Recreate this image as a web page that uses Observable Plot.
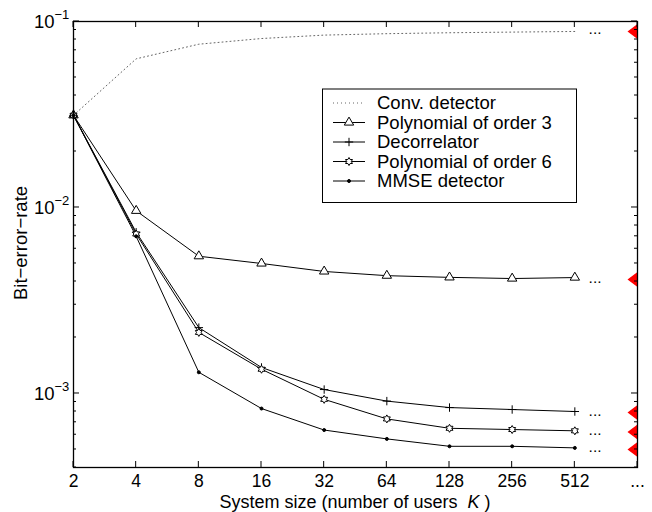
<!DOCTYPE html>
<html><head><meta charset="utf-8">
<script src="https://cdn.jsdelivr.net/npm/d3@7"></script>
<script src="https://cdn.jsdelivr.net/npm/@observablehq/plot@0.6"></script>
<style>body{margin:0;background:#fff;} #chart{width:652px;height:512px;}</style>
</head><body><div id="chart"></div>
<script>
// ---- data ----
const users = [2, 4, 8, 16, 32, 64, 128, 256, 512];
const convBER  = [0.0313, 0.063, 0.0755, 0.081, 0.0845, 0.086, 0.087, 0.0877, 0.0884];
const poly3BER = [0.0313, 0.0096, 0.00547, 0.0050, 0.00453, 0.0043, 0.00421, 0.00415, 0.0042];
const decorBER = [0.0313, 0.00736, 0.00226, 0.00138, 0.00105, 0.00091, 0.00084, 0.00082, 0.00080];
const poly6BER = [0.0313, 0.0072, 0.00213, 0.00135, 0.00093, 0.00073, 0.00065, 0.00064, 0.00063];
const mmseBER  = [0.0313, 0.0070, 0.0013, 0.00083, 0.000636, 0.00057, 0.00052, 0.00052, 0.00051];
const limitBER = [0.0884, 0.0041, 0.00079, 0.00062, 0.00050];
const seriesNames = ["Conv. detector", "Polynomial of order 3", "Decorrelator", "Polynomial of order 6", "MMSE detector"];
const xTicks = [2, 4, 8, 16, 32, 64, 128, 256, 512, 1024];
const xTickLabels = ["2", "4", "8", "16", "32", "64", "128", "256", "512", "..."];
const yMajor = [1e-3, 1e-2, 1e-1];
const yExponents = ["\u22123", "\u22122", "\u22121"];
const yMinor = [4e-4,5e-4,6e-4,7e-4,8e-4,9e-4,2e-3,3e-3,4e-3,5e-3,6e-3,7e-3,8e-3,9e-3,2e-2,3e-2,4e-2,5e-2,6e-2,7e-2,8e-2,9e-2];
const xLabel = "System size (number of users  ";
const yLabel = "Bit\u2212error\u2212rate";

// ---- symbols ----
const rOf = s => Math.sqrt(s / Math.PI);
const triUp = {draw(c, s){const r = rOf(s); c.moveTo(0, -r*1.15); c.lineTo(r, r*0.55); c.lineTo(-r, r*0.55); c.closePath();}};
const plusSym = {draw(c, s){const r = rOf(s); c.moveTo(-r, 0); c.lineTo(r, 0); c.moveTo(0, -r); c.lineTo(0, r);}};
const hexagram = {draw(c, s){const R = rOf(s); for (let k = 0; k < 12; k++){const a = -Math.PI/2 + k*Math.PI/6; const rr = k % 2 ? R/Math.sqrt(3) : R; const x = rr*Math.cos(a), y = rr*Math.sin(a); k ? c.lineTo(x, y) : c.moveTo(x, y);} c.closePath();}};
const dotSym = {draw(c, s){const r = rOf(s); c.moveTo(r, 0); c.arc(0, 0, r, 0, 2*Math.PI);}};
const leftTri = {draw(c){c.moveTo(0, -7.5); c.lineTo(0, 7.5); c.lineTo(-10, 0); c.closePath();}};

const series = [
  {name: seriesNames[0], v: convBER,  sym: null,     r: 0,   fill: "none", dash: "1,3", stroke: "#666"},
  {name: seriesNames[1], v: poly3BER, sym: triUp,    r: 4.7, fill: "white", dash: null, stroke: "black"},
  {name: seriesNames[2], v: decorBER, sym: plusSym,  r: 4.2, fill: "none", dash: null, stroke: "black"},
  {name: seriesNames[3], v: poly6BER, sym: hexagram, r: 4.0, fill: "white", dash: null, stroke: "black"},
  {name: seriesNames[4], v: mmseBER,  sym: dotSym,   r: 1.5, fill: "black", dash: null, stroke: "black"}
];
const rowsOf = s => s.v.map((b, i) => ({K: users[i], ber: b}));

const FS = 18.5;
const TFS = 17.5;
const marks = [];
series.forEach(s => {
  marks.push(Plot.line(rowsOf(s), {x: "K", y: "ber", stroke: s.stroke, strokeWidth: 1, strokeDasharray: s.dash}));
});
series.forEach(s => {
  if (s.sym) marks.push(Plot.dot(rowsOf(s), {x: "K", y: "ber", symbol: s.sym, r: s.r, fill: s.fill, stroke: "black", strokeWidth: 1}));
});
marks.push(
  Plot.dot(limitBER, {y: d => d, frameAnchor: "right", symbol: leftTri, fill: "#ff0000", stroke: "none"}),
  Plot.text(limitBER, {y: d => d, frameAnchor: "right", text: () => "...", dx: -36, dy: 3, lineAnchor: "bottom", fontSize: 15.5}),
  Plot.frame({stroke: "black", strokeWidth: 1.3}),
  Plot.axisX(xTicks, {anchor: "bottom", tickSize: 0, tickPadding: 7, tickFormat: d => xTickLabels[xTicks.indexOf(d)], fontSize: TFS, label: null}),
  Plot.text(yMajor, {y: d => d, frameAnchor: "left", text: () => "10", textAnchor: "end", dx: -19, dy: 1, fontSize: FS}),
  Plot.text(yMajor, {y: d => d, frameAnchor: "left", text: (d, i) => yExponents[i], textAnchor: "start", dx: -19, dy: -7, fontSize: 13})
);

const chart = Plot.plot({
  width: 652, height: 512,
  marginLeft: 73, marginRight: 15, marginTop: 21, marginBottom: 45,
  x: {type: "log", base: 2, domain: [2, 1024]},
  y: {type: "log", domain: [4e-4, 0.1], axis: null},
  style: {fontFamily: "'Liberation Sans', Arial, Helvetica, sans-serif", fontSize: FS + "px", background: "white", color: "black", overflow: "visible"},
  marks
});
document.getElementById("chart").appendChild(chart);

// ---- inward ticks placed with Plot's own scales ----
const svg = d3.select(chart);
const sx = chart.scale("x"), sy = chart.scale("y");
const [x0, x1] = sx.range, [y0, y1] = sy.range; // y0 bottom, y1 top
const tg = svg.append("g").attr("stroke", "black").attr("stroke-width", 1);
xTicks.forEach(t => {
  const px = sx.apply(t);
  tg.append("line").attr("x1", px).attr("x2", px).attr("y1", y0).attr("y2", y0 - 6);
  tg.append("line").attr("x1", px).attr("x2", px).attr("y1", y1).attr("y2", y1 + 6);
});
[[yMajor, 6], [yMinor, 3]].forEach(([vals, len]) => vals.forEach(t => {
  const py = sy.apply(t);
  tg.append("line").attr("x1", x0).attr("x2", x0 + len).attr("y1", py).attr("y2", py);
  tg.append("line").attr("x1", x1).attr("x2", x1 - len).attr("y1", py).attr("y2", py);
}));

// ---- axis titles and legend ----
const fam = "'Liberation Sans', Arial, Helvetica, sans-serif";
const xt = svg.append("text").attr("x", 355).attr("y", 508).attr("text-anchor", "middle")
  .attr("font-family", fam).attr("font-size", 18).attr("fill", "black").style("white-space", "pre");
xt.append("tspan").text(xLabel);
xt.append("tspan").attr("font-style", "italic").text("K");
xt.append("tspan").text(" )");
svg.append("text").attr("transform", "translate(27,243) rotate(-90)").attr("text-anchor", "middle")
  .attr("font-family", fam).attr("font-size", FS).attr("fill", "black").text(yLabel);

const lg = svg.append("g");
lg.append("rect").attr("x", 322.5).attr("y", 89).attr("width", 254).attr("height", 113.5)
  .attr("fill", "white").attr("stroke", "black").attr("stroke-width", 1);
series.forEach((s, i) => {
  const y = 103 + i * 19.5;
  lg.append("line").attr("x1", 333).attr("x2", 365).attr("y1", y).attr("y2", y)
    .attr("stroke", s.stroke).attr("stroke-width", 1).attr("stroke-dasharray", s.dash);
  if (s.sym) lg.append("path").attr("transform", `translate(349,${y})`)
    .attr("d", d3.symbol().type(s.sym).size(Math.PI * s.r * s.r)())
    .attr("fill", s.fill).attr("stroke", "black").attr("stroke-width", 1);
  lg.append("text").attr("x", 377).attr("y", y).attr("dy", "0.35em").attr("text-anchor", "start")
    .attr("font-family", fam).attr("font-size", FS).attr("fill", "black").text(s.name);
});
</script>
</body></html>
